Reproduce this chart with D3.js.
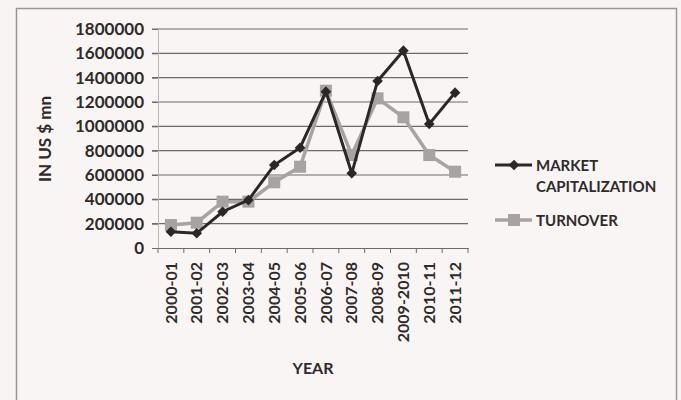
<!DOCTYPE html>
<html>
<head>
<meta charset="utf-8">
<script src="https://cdn.jsdelivr.net/npm/d3@7"></script>
<style>
    body { margin: 0; background: #f8f4f3; }
    svg text { font-family: Lato, "Open Sans", sans-serif; font-weight: bold; fill: #2e2a2a; }
</style>
</head>
<body>
<svg id="chart" width="681" height="400"></svg>
<script>
// Chart data
const years = ["2000-01", "2001-02", "2002-03", "2003-04", "2004-05", "2005-06",
    "2006-07", "2007-08", "2008-09", "2009-2010", "2010-11", "2011-12"];
const marketCap = [134000, 121000, 298000, 394000, 682000, 824000,
    1285000, 614000, 1373000, 1622000, 1019000, 1277000];
const turnover = [189000, 208000, 381000, 381000, 540000, 668000,
    1293000, 764000, 1230000, 1074000, 764000, 627000];
const yTicks = [0, 200000, 400000, 600000, 800000, 1000000, 1200000, 1400000, 1600000, 1800000];

const svg = d3.select("#chart");

// outer frame
svg.append("rect")
    .attr("x", 16.5).attr("y", 8.5)
    .attr("width", 660).attr("height", 420)
    .attr("fill", "#f9f5f4")
    .attr("stroke", "#9a9696")
    .attr("stroke-width", 1.5);

const xScale = d3.scaleBand().domain(years).range([158, 468]);
const yScale = d3.scaleLinear().domain([0, 1800000]).range([248, 29]);

// gridlines
svg.append("g")
    .selectAll("line")
    .data(yTicks.slice(1))
    .enter()
    .append("line")
    .attr("x1", 152).attr("x2", 468)
    .attr("y1", d => yScale(d)).attr("y2", d => yScale(d))
    .attr("stroke", "#6e6a6a")
    .attr("stroke-width", 1.2);

// Y axis
const yAxis = d3.axisLeft(yScale).tickValues(yTicks).tickSize(6).tickPadding(8).tickFormat(d3.format("d"));
const gy = svg.append("g")
    .attr("transform", "translate(158,0)")
    .call(yAxis);
gy.select(".domain").attr("stroke", "#bdb8b8");
gy.selectAll(".tick line").attr("stroke", "#6e6a6a");
gy.selectAll("text").style("font-size", "17px").attr("fill", "#2e2a2a");

// X axis
const xAxis = d3.axisBottom(xScale).tickSize(0).tickPadding(0);
const gx = svg.append("g")
    .attr("transform", "translate(0,248)")
    .call(xAxis);
gx.select(".domain").attr("stroke", "#6e6a6a").attr("stroke-width", 1.2);
gx.selectAll(".tick text")
    .style("font-size", "16px")
    .attr("fill", "#2e2a2a")
    .attr("text-anchor", "end")
    .attr("dy", "0.35em")
    .attr("transform", "translate(0,14) rotate(-90)");
// tick marks between categories
svg.append("g")
    .selectAll("line")
    .data(years.concat(["end"]))
    .enter()
    .append("line")
    .attr("x1", (d, i) => 158 + i * xScale.bandwidth())
    .attr("x2", (d, i) => 158 + i * xScale.bandwidth())
    .attr("y1", 248).attr("y2", 253)
    .attr("stroke", "#6e6a6a");

const line = d3.line()
    .x((d, i) => xScale(years[i]) + xScale.bandwidth() / 2)
    .y(d => yScale(d));

// turnover series
svg.append("path")
    .datum(turnover)
    .attr("fill", "none")
    .attr("stroke", "#a8a2a0")
    .attr("stroke-width", 3.5)
    .attr("d", line);
svg.selectAll(".sq")
    .data(turnover)
    .enter()
    .append("rect")
    .attr("class", "sq")
    .attr("x", (d, i) => xScale(years[i]) + xScale.bandwidth() / 2 - 6)
    .attr("y", d => yScale(d) - 6)
    .attr("width", 12).attr("height", 12)
    .attr("fill", "#a8a2a0");

// market cap series
svg.append("path")
    .datum(marketCap)
    .attr("fill", "none")
    .attr("stroke", "#2b2727")
    .attr("stroke-width", 3)
    .attr("d", line);
svg.selectAll(".dm")
    .data(marketCap)
    .enter()
    .append("path")
    .attr("class", "dm")
    .attr("d", d3.symbol().type(d3.symbolDiamond2).size(72))
    .attr("transform", (d, i) => `translate(${xScale(years[i]) + xScale.bandwidth() / 2},${yScale(d)})`)
    .attr("fill", "#2b2727");

// axis titles
svg.append("text")
    .attr("transform", "translate(51,139) rotate(-90)")
    .attr("text-anchor", "middle")
    .style("font-size", "17px")
    .text("IN US $ mn");

svg.append("text")
    .attr("x", 313).attr("y", 374)
    .attr("text-anchor", "middle")
    .style("font-size", "16px")
    .text("YEAR");

// legend
svg.append("line")
    .attr("x1", 495).attr("x2", 532).attr("y1", 165).attr("y2", 165)
    .attr("stroke", "#2b2727").attr("stroke-width", 3);
svg.append("path")
    .attr("d", d3.symbol().type(d3.symbolDiamond2).size(72))
    .attr("transform", "translate(514,165)")
    .attr("fill", "#2b2727");
svg.append("text").attr("x", 536).attr("y", 171).style("font-size", "15px").text("MARKET");
svg.append("text").attr("x", 536).attr("y", 192).style("font-size", "15px").text("CAPITALIZATION");

svg.append("line")
    .attr("x1", 495).attr("x2", 532).attr("y1", 220).attr("y2", 220)
    .attr("stroke", "#a8a2a0").attr("stroke-width", 3.5);
svg.append("rect")
    .attr("x", 508).attr("y", 214).attr("width", 12).attr("height", 12)
    .attr("fill", "#a8a2a0");
svg.append("text").attr("x", 536).attr("y", 226).style("font-size", "15px").text("TURNOVER");
</script>
</body>
</html>
